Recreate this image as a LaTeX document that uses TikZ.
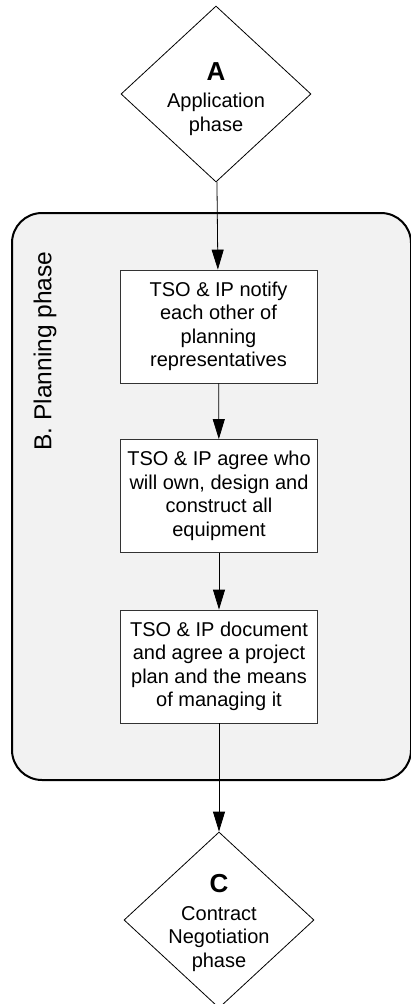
\documentclass[tikz,border=0pt]{standalone}
\usepackage{fontspec}
\setmainfont{Liberation Sans}
\usetikzlibrary{arrows.meta,shapes.geometric}

\tikzset{
  phasediamond/.style={draw, shape=diamond, minimum width=190pt, minimum height=176pt, inner sep=0pt, line width=0.8pt},
  phasetext/.style={align=center, font=\fontsize{20}{23.5}\selectfont},
  stepbox/.style={draw=black!80, fill=white, minimum width=197pt, minimum height=113pt, align=center, inner sep=0pt, line width=0.8pt, font=\fontsize{20}{23.5}\selectfont},
  flow/.style={line width=0.8pt, -{Triangle[length=20pt,width=12pt]}}
}

\begin{document}
\begin{tikzpicture}[x=1pt,y=-1pt]
  \useasboundingbox (0,0) rectangle (411,1004);

  % Planning phase container
  \draw[line width=2pt, fill=black!5, rounded corners=30pt] (12,213) rectangle (411,780);
  \node[rotate=90, font=\fontsize{24.5}{28}\selectfont] (planlabel) at (45,351) {B. Planning phase};

  % Phases
  \node[phasediamond, label={[phasetext, yshift=-5pt]center:{{\fontsize{26}{27}\selectfont\bfseries A}\\[4pt]Application\\phase}}] (appl) at (216,94) {};
  \node[phasediamond, label={[phasetext, yshift=-3pt]center:{{\fontsize{26}{27}\selectfont\bfseries C}\\[4pt]Contract\\Negotiation\\phase}}] (contract) at (219,920) {};

  % Planning steps
  \node[stepbox] (notify) at (218.5,326.5) {TSO \& IP notify\\each other of\\planning\\representatives};
  \node[stepbox] (agree) at (219,496) {TSO \& IP agree who\\will own, design and\\construct all\\equipment};
  \node[stepbox] (document) at (219,666.5) {TSO \& IP document\\and agree a project\\plan and the means\\of managing it};

  % Connectors
  \draw[flow] (appl) -- (notify);
  \draw[flow] (notify) -- (agree);
  \draw[flow] (agree) -- (document);
  \draw[flow] (document) -- (contract);
\end{tikzpicture}
\end{document}
